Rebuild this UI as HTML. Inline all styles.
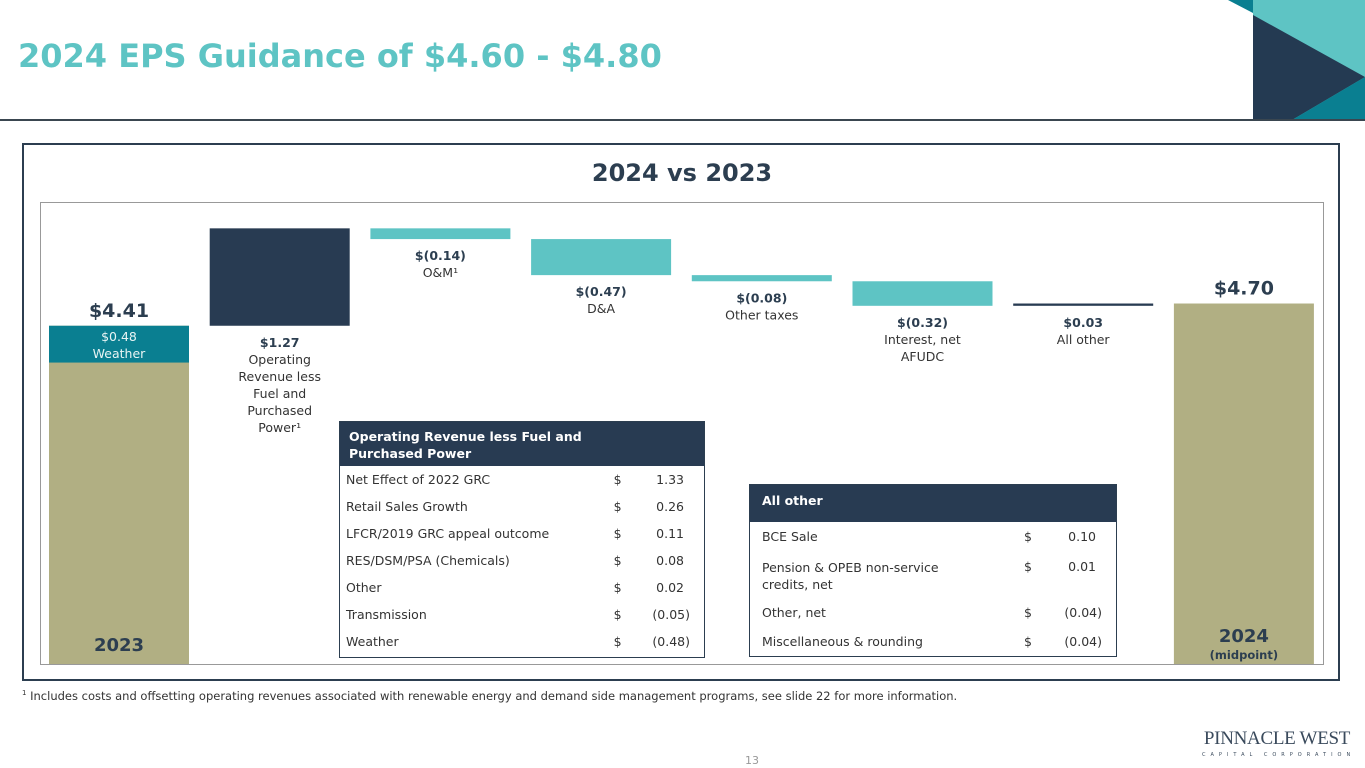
<!DOCTYPE html>
<html><head><meta charset="utf-8"><style>
body{margin:0;width:1365px;height:768px;overflow:hidden;background:#fff;font-family:"DejaVu Sans","Liberation Sans",sans-serif;position:relative}
.abs{position:absolute}
table{border-collapse:collapse;font-size:12.5px;color:#333}
td{padding:0 6px;white-space:nowrap}
</style></head><body>
<div class="abs" style="left:18px;top:37px;font-size:32px;font-weight:bold;color:#5ec4c4;white-space:nowrap">2024 EPS Guidance of $4.60 - $4.80</div>
<svg class="abs" style="left:0;top:0;font-family:'DejaVu Sans',sans-serif" width="1365" height="768">
 <g>
  <rect x="1253" y="0" width="112" height="120" fill="#5ec4c4"/>
  <polygon points="1228,0 1253,0 1253,13" fill="#0a7f91"/>
  <polygon points="1253,15 1365,77 1292,120 1253,120" fill="#243a52"/>
  <polygon points="1292,120 1365,77 1365,120" fill="#0a7f91"/>
 </g>
 <rect x="0" y="119" width="1365" height="2" fill="#3a4650"/>
 <rect x="23" y="144" width="1316" height="536" fill="none" stroke="#2c3e50" stroke-width="2"/>
 <rect x="40.5" y="202.5" width="1283" height="462" fill="none" stroke="#999" stroke-width="1"/>
 <text x="682" y="181" text-anchor="middle" font-size="24" font-weight="bold" fill="#2c3e50">2024 vs 2023</text>
 <g id="bars"></g>
</svg>

<div class="abs" style="left:339px;top:421px;width:364px;height:235px;border:1px solid #2c3e50">
 <div style="background:#283b52;color:#fff;font-weight:bold;font-size:12.5px;line-height:17px;padding:6px 9px;height:32px">Operating Revenue less Fuel and<br>Purchased Power</div>
 <table style="width:100%">
  <tr style="height:27px"><td>Net Effect of 2022 GRC</td><td>$</td><td style="text-align:right;padding-right:20px">1.33</td></tr>
  <tr style="height:27px"><td>Retail Sales Growth</td><td>$</td><td style="text-align:right;padding-right:20px">0.26</td></tr>
  <tr style="height:27px"><td>LFCR/2019 GRC appeal outcome</td><td>$</td><td style="text-align:right;padding-right:20px">0.11</td></tr>
  <tr style="height:27px"><td>RES/DSM/PSA (Chemicals)</td><td>$</td><td style="text-align:right;padding-right:20px">0.08</td></tr>
  <tr style="height:27px"><td>Other</td><td>$</td><td style="text-align:right;padding-right:20px">0.02</td></tr>
  <tr style="height:27px"><td>Transmission</td><td>$</td><td style="text-align:right;padding-right:14px">(0.05)</td></tr>
  <tr style="height:27px"><td>Weather</td><td>$</td><td style="text-align:right;padding-right:14px">(0.48)</td></tr>
 </table>
</div>
<div class="abs" style="left:749px;top:484px;width:366px;height:171px;border:1px solid #2c3e50">
 <div style="background:#283b52;color:#fff;font-weight:bold;font-size:12.5px;line-height:17px;padding:7px 12px;height:23px">All other</div>
 <table style="width:100%">
  <tr style="height:29px"><td style="padding-left:12px">BCE Sale</td><td style="width:20px">$</td><td style="text-align:right;padding-right:20px;width:40px">0.10</td></tr>
  <tr style="height:47px;vertical-align:top"><td style="padding-left:12px;padding-top:8px;line-height:17px">Pension &amp; OPEB non-service<br>credits, net</td><td style="padding-top:8px">$</td><td style="text-align:right;padding-right:20px;padding-top:8px">0.01</td></tr>
  <tr style="height:28px"><td style="padding-left:12px">Other, net</td><td>$</td><td style="text-align:right;padding-right:14px">(0.04)</td></tr>
  <tr style="height:30px"><td style="padding-left:12px">Miscellaneous &amp; rounding</td><td>$</td><td style="text-align:right;padding-right:14px">(0.04)</td></tr>
 </table>
</div>

<div class="abs" style="left:22px;top:689px;font-size:11.5px;color:#333;white-space:nowrap"><sup style="font-size:7px">1</sup> Includes costs and offsetting operating revenues associated with renewable energy and demand side management programs, see slide 22 for more information.</div>
<div class="abs" style="left:745px;top:754px;font-size:11px;color:#999">13</div>
<div class="abs" style="left:1202px;top:729px;color:#3a4a5c;text-align:center;width:150px;white-space:nowrap;overflow:hidden">
 <div style="font-family:'Liberation Serif',serif;font-size:19px;line-height:20px;letter-spacing:-0.3px">PINNACLE WEST</div>
 <div style="font-size:5px;letter-spacing:5px;margin-top:3px">CAPITAL CORPORATION</div>
</div>

<script>
const categories=["2023","Operating Revenue less Fuel and Purchased Power","O&M","D&A","Other taxes","Interest, net AFUDC","All other","2024"];
const deltas=[4.41,1.27,-0.14,-0.47,-0.08,-0.32,0.03,4.70];
const weatherAdj=[0.48];
const valueLabels=["$4.41","$1.27","$(0.14)","$(0.47)","$(0.08)","$(0.32)","$0.03","$4.70"];
const subLabels=[[],["Operating","Revenue less","Fuel and","Purchased","Power¹"],["O&M¹"],["D&A"],["Other taxes"],["Interest, net","AFUDC"],["All other"],[]];

const NS="http://www.w3.org/2000/svg";
const g=document.getElementById('bars');
const base=664, scale=76.7, x0=49, step=160.7, bw=140;
const y=v=>base-v*scale;
const xAt=i=>x0+i*step;
function mk(tag,attrs,txt){const e=document.createElementNS(NS,tag);for(const k in attrs)e.setAttribute(k,attrs[k]);if(txt!==undefined)e.textContent=txt;g.appendChild(e);return e;}
let run=0;
deltas.forEach((d,i)=>{
  const x=xAt(i);
  let top,bot,fill;
  if(i===0||i===deltas.length-1){top=y(d);bot=base;fill="#b1af83";run=d;}
  else{const a=run,b=run+d;top=y(Math.max(a,b));bot=y(Math.min(a,b));run=b;fill=d>0?"#283b52":"#5ec4c4";}
  const h=Math.max(bot-top,2);
  const r=mk('rect',{x:x,y:top,width:bw,height:h,fill:fill});
  
  
  const cx=x+bw/2;
  if(i===0||i===deltas.length-1){
    const t=mk('text',{x:cx,y:top-9,'text-anchor':'middle','font-size':19,'font-weight':'bold',fill:'#2c3e50'},valueLabels[i]);
    
    
  } else {
    const t=mk('text',{x:cx,y:bot+21,'text-anchor':'middle','font-size':12.5,'font-weight':'bold',fill:'#2c3e50'},valueLabels[i]);
    
    
    subLabels[i].forEach((s,j)=>{
      const u=mk('text',{x:cx,y:bot+38+j*17,'text-anchor':'middle','font-size':12.5,fill:'#333'},s);
      
      
    });
  }
});
const wTop=y(deltas[0]), wBot=y(deltas[0]-weatherAdj[0]);
const w=mk('rect',{x:xAt(0),y:wTop,width:bw,height:wBot-wTop,fill:'#0a7f91'});


const w1=mk('text',{x:xAt(0)+bw/2,y:wTop+15,'text-anchor':'middle','font-size':12.5,fill:'#e8f4f4'},'$'+weatherAdj[0].toFixed(2));


const w2=mk('text',{x:xAt(0)+bw/2,y:wTop+32,'text-anchor':'middle','font-size':12.5,fill:'#e8f4f4'},'Weather');


const y1=mk('text',{x:xAt(0)+bw/2,y:651,'text-anchor':'middle','font-size':18,'font-weight':'bold',fill:'#2c3e50'},'2023');


const y2=mk('text',{x:xAt(7)+bw/2,y:642,'text-anchor':'middle','font-size':18,'font-weight':'bold',fill:'#2c3e50'},'2024');


const y3=mk('text',{x:xAt(7)+bw/2,y:659,'text-anchor':'middle','font-size':11.5,'font-weight':'bold',fill:'#2c3e50'},'(midpoint)');


</script>
</body></html>
